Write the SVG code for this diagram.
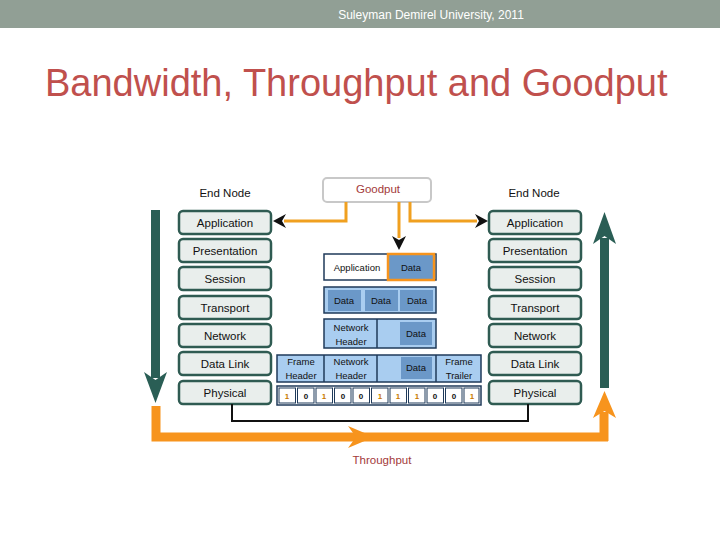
<svg xmlns="http://www.w3.org/2000/svg" width="720" height="540" viewBox="0 0 720 540">
<defs>
<style>
.t{font-family:"Liberation Sans",Arial,sans-serif;fill:#111;text-anchor:middle}
.layer{fill:#e9eeec;stroke:#2f5b52;stroke-width:2.5}
.lt{font-size:11.5px}
.cell{fill:#a9cdf0;stroke:#1f3a5a;stroke-width:1.5}
.dbox{fill:#6b98c8;stroke:none}
.dt{font-size:9.5px}
.bit{fill:#fff;stroke:#1f3a5a;stroke-width:1}
.bt{font-size:8px;font-weight:bold}
.og{fill:none;stroke:#f0a020;stroke-width:3}
.green{fill:#2a5e55}
.orange{fill:#f7941d}
</style>
</defs>
<rect x="0" y="0" width="720" height="28" fill="#919f95"/>
<text x="431" y="19" class="t" style="fill:#fff;font-size:12px">Suleyman Demirel University, 2011</text>
<text x="45" y="96" style="font-family:'Liberation Sans',Arial,sans-serif;font-size:38px;fill:#c0504d">Bandwidth, Throughput and Goodput</text>

<g id="left-node">
<text x="225" y="197" class="t lt">End Node</text>
<rect x="179" y="211" width="92" height="23" rx="4" class="layer"/><text x="225" y="227" class="t lt">Application</text>
<rect x="179" y="239" width="92" height="23" rx="4" class="layer"/><text x="225" y="255" class="t lt">Presentation</text>
<rect x="179" y="267" width="92" height="23" rx="4" class="layer"/><text x="225" y="283" class="t lt">Session</text>
<rect x="179" y="296" width="92" height="23" rx="4" class="layer"/><text x="225" y="312" class="t lt">Transport</text>
<rect x="179" y="324" width="92" height="23" rx="4" class="layer"/><text x="225" y="340" class="t lt">Network</text>
<rect x="179" y="352" width="92" height="23" rx="4" class="layer"/><text x="225" y="368" class="t lt">Data Link</text>
<rect x="179" y="381" width="92" height="23" rx="4" class="layer"/><text x="225" y="397" class="t lt">Physical</text>
</g>

<g id="right-node">
<text x="534" y="197" class="t lt">End Node</text>
<rect x="489" y="211" width="92" height="23" rx="4" class="layer"/><text x="535" y="227" class="t lt">Application</text>
<rect x="489" y="239" width="92" height="23" rx="4" class="layer"/><text x="535" y="255" class="t lt">Presentation</text>
<rect x="489" y="267" width="92" height="23" rx="4" class="layer"/><text x="535" y="283" class="t lt">Session</text>
<rect x="489" y="296" width="92" height="23" rx="4" class="layer"/><text x="535" y="312" class="t lt">Transport</text>
<rect x="489" y="324" width="92" height="23" rx="4" class="layer"/><text x="535" y="340" class="t lt">Network</text>
<rect x="489" y="352" width="92" height="23" rx="4" class="layer"/><text x="535" y="368" class="t lt">Data Link</text>
<rect x="489" y="381" width="92" height="23" rx="4" class="layer"/><text x="535" y="397" class="t lt">Physical</text>
</g>

<g id="goodput">
<rect x="323" y="178" width="108" height="24" rx="4" fill="#fff" stroke="#c8c8c8" stroke-width="2"/>
<text x="378" y="193" class="t lt" style="fill:#a33a3a">Goodput</text>
</g>

<g id="encapsulation">
<rect x="324" y="254" width="112" height="26" fill="#fff" stroke="#1f3a5a" stroke-width="1.5"/>
<text x="357" y="271" class="t dt">Application</text>
<rect x="388" y="254" width="46" height="26" fill="#6b98c8" stroke="#f7941d" stroke-width="2.5"/>
<text x="411" y="271" class="t dt">Data</text>

<rect x="324" y="287" width="112" height="26" class="cell"/>
<rect x="328" y="290" width="33" height="21" class="dbox"/><text x="344" y="304" class="t dt">Data</text>
<rect x="365" y="290" width="33" height="21" class="dbox"/><text x="381" y="304" class="t dt">Data</text>
<rect x="400" y="290" width="33" height="21" class="dbox"/><text x="417" y="304" class="t dt">Data</text>

<rect x="324" y="319" width="112" height="29" class="cell"/>
<line x1="377" y1="319" x2="377" y2="348" stroke="#1f3a5a" stroke-width="1.5"/>
<text x="351" y="331" class="t dt">Network</text><text x="351" y="345" class="t dt">Header</text>
<rect x="400" y="322" width="32" height="23" class="dbox"/><text x="416" y="337" class="t dt">Data</text>

<rect x="277" y="355" width="204" height="27" class="cell"/>
<line x1="324" y1="355" x2="324" y2="382" stroke="#1f3a5a" stroke-width="1.5"/>
<line x1="377" y1="355" x2="377" y2="382" stroke="#1f3a5a" stroke-width="1.5"/>
<line x1="436" y1="355" x2="436" y2="382" stroke="#1f3a5a" stroke-width="1.5"/>
<text x="301" y="365" class="t dt">Frame</text><text x="301" y="379" class="t dt">Header</text>
<text x="351" y="365" class="t dt">Network</text><text x="351" y="379" class="t dt">Header</text>
<rect x="401" y="357" width="31" height="22" class="dbox"/><text x="416" y="371" class="t dt">Data</text>
<text x="459" y="365" class="t dt">Frame</text><text x="459" y="379" class="t dt">Trailer</text>

<rect x="277" y="386" width="204" height="19" fill="#fff" stroke="#1f3a5a" stroke-width="1.5"/>
<g class="bits">
<rect x="279" y="388" width="16.5" height="15" class="bit"/><text x="287" y="399" class="t bt" style="fill:#c77a00">1</text>
<rect x="297.5" y="388" width="16.5" height="15" class="bit"/><text x="306" y="399" class="t bt">0</text>
<rect x="316" y="388" width="16.5" height="15" class="bit"/><text x="324" y="399" class="t bt" style="fill:#c77a00">1</text>
<rect x="334.5" y="388" width="16.5" height="15" class="bit"/><text x="343" y="399" class="t bt">0</text>
<rect x="353" y="388" width="16.5" height="15" class="bit"/><text x="361" y="399" class="t bt">0</text>
<rect x="371.5" y="388" width="16.5" height="15" class="bit"/><text x="380" y="399" class="t bt" style="fill:#c77a00">1</text>
<rect x="390" y="388" width="16.5" height="15" class="bit"/><text x="398" y="399" class="t bt" style="fill:#c77a00">1</text>
<rect x="408.5" y="388" width="16.5" height="15" class="bit"/><text x="417" y="399" class="t bt" style="fill:#c77a00">1</text>
<rect x="427" y="388" width="16.5" height="15" class="bit"/><text x="435" y="399" class="t bt">0</text>
<rect x="445.5" y="388" width="16.5" height="15" class="bit"/><text x="454" y="399" class="t bt">0</text>
<rect x="464" y="388" width="15" height="15" class="bit"/><text x="472" y="399" class="t bt" style="fill:#c77a00">1</text>
</g>
</g>

<g id="connectors">
<polyline points="346,202 346,221 284,221" class="og"/>
<polygon points="273,221 286,214 282,221 286,228" fill="#111"/>
<polyline points="410,202 410,221 477,221" class="og"/>
<polygon points="488,221 475,214 479,221 475,228" fill="#111"/>
<line x1="399" y1="202" x2="399" y2="238" class="og"/>
<polygon points="399,250 392,236 399,240 406,236" fill="#111"/>

<polyline points="232,404 232,421 528,421 528,404" fill="none" stroke="#111" stroke-width="2"/>

<rect x="151" y="210" width="9" height="168" class="green"/>
<polygon points="144,372 155.5,403 167,372 155.5,380" class="green"/>
<rect x="600" y="238" width="9" height="150" class="green"/>
<polygon points="593,244 604.5,212 616,244 604.5,236" class="green"/>

<polyline points="156,406 156,437 608,437" fill="none" stroke="#f7941d" stroke-width="9" stroke-linejoin="miter"/>
<polyline points="604,441 604,412" fill="none" stroke="#f7941d" stroke-width="9"/>
<polygon points="593,418 604.5,391 616,418 604.5,411" class="orange"/>
<polygon points="348,426 374,437 348,448 356,437" class="orange"/>
</g>
<text x="382" y="464" class="t lt" style="fill:#a33a3a">Throughput</text>
</svg>
